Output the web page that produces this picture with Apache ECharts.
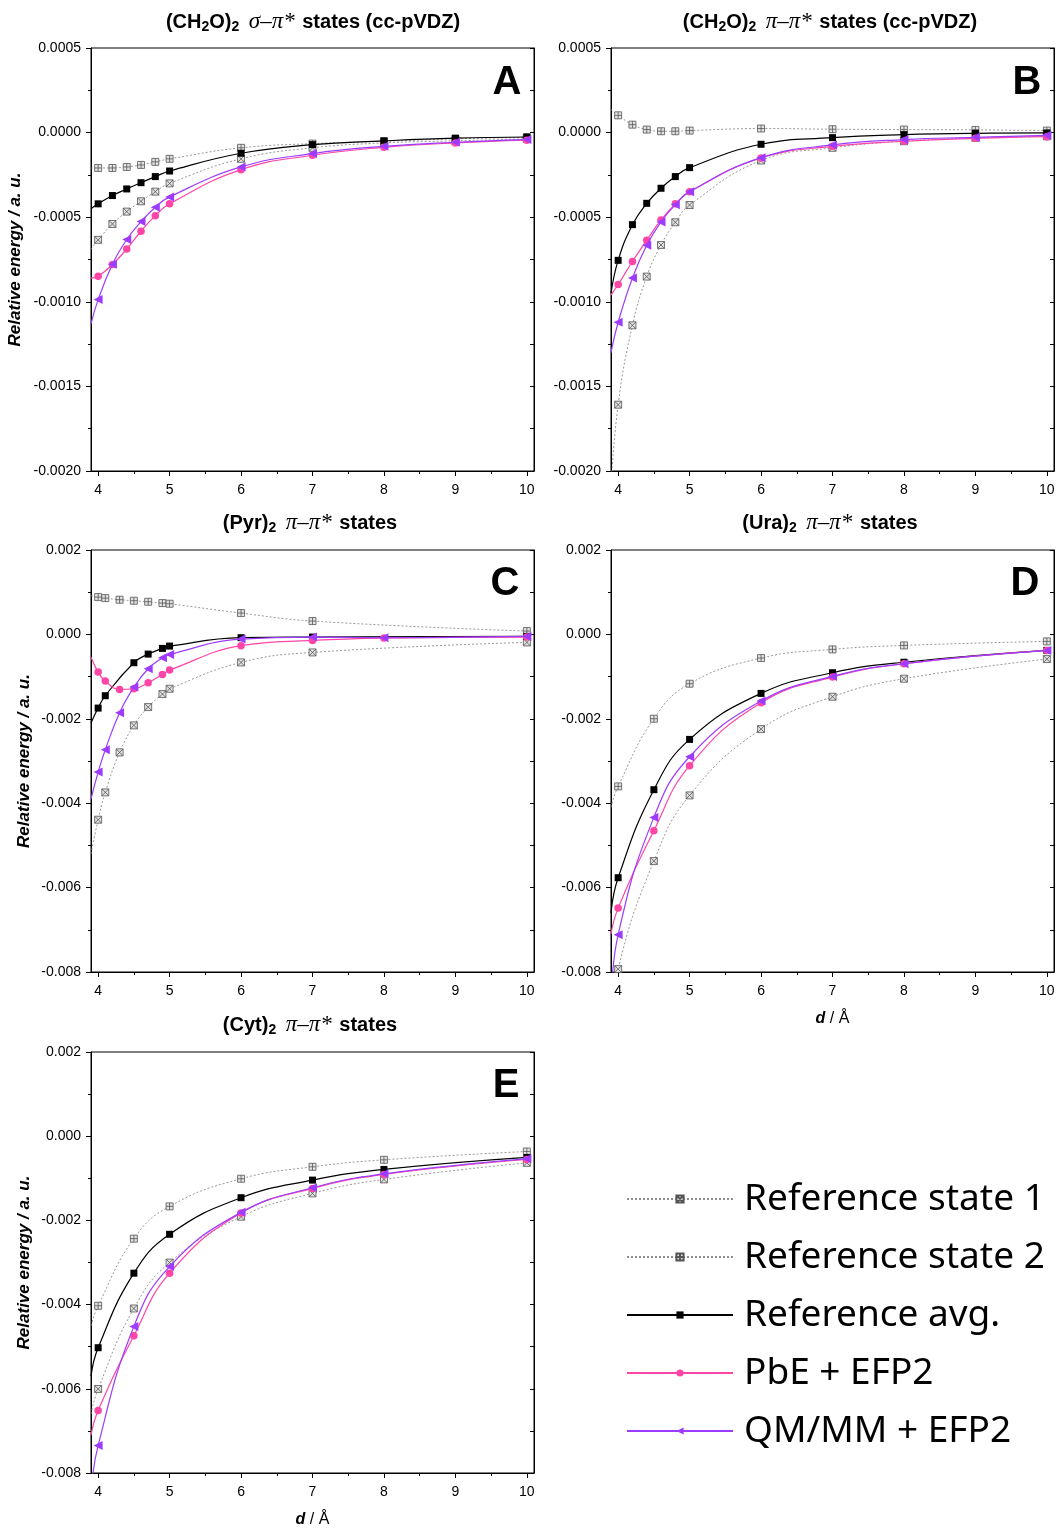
<!DOCTYPE html>
<html>
<head>
<meta charset="utf-8">
<script src="https://cdn.jsdelivr.net/npm/echarts@6/dist/echarts.min.js"></script>
<style>
html,body{margin:0;padding:0;background:#fff;}
#chart{width:1058px;height:1529px;}
</style>
</head>
<body>
<div id="chart"></div>
<script>
// ---------------- DATA (d in Å, energies in a.u.) ----------------
// first entry of each d-array (3.9) is where the drawn curve meets the left frame (no marker there)
const A_d = [3.9, 4.0, 4.2, 4.4, 4.6, 4.8, 5.0, 6, 7, 8, 9, 10];
const A_state1 = [-0.00069, -0.000634, -0.00054, -0.000467, -0.000406, -0.000349, -0.0003, -0.000155, -0.00009, -0.000061, -0.000049, -0.000037];
const A_state2 = [-0.00021, -0.000209, -0.000209, -0.000203, -0.000191, -0.000173, -0.000155, -0.00009, -0.000065, -0.000051, -0.000037, -0.000028];
const A_avg    = [-0.00045, -0.000421, -0.000372, -0.000333, -0.000296, -0.00026, -0.000227, -0.000122, -0.000071, -0.000049, -0.000033, -0.000026];
const A_pbe    = [-0.00086, -0.000849, -0.00078, -0.000688, -0.000583, -0.000491, -0.000421, -0.000219, -0.000134, -0.000087, -0.000061, -0.000045];
const A_qmmm   = [-0.00113, -0.000987, -0.000778, -0.000632, -0.000526, -0.000441, -0.00038, -0.000203, -0.000124, -0.000081, -0.000057, -0.000041];

const B_d = [3.9, 4.0, 4.2, 4.4, 4.6, 4.8, 5.0, 6, 7, 8, 9, 10];
const B_state1 = [-0.0021, -0.001608, -0.001139, -0.000851, -0.000664, -0.00053, -0.000428, -0.000165, -0.00009, -0.000051, -0.000031, -0.000022];
const B_state2 = [0.000136, 0.000102, 0.000047, 0.000018, 0.000008, 0.000008, 0.000012, 0.000024, 0.00002, 0.000018, 0.000016, 0.000012];
const B_avg    = [-0.00095, -0.000755, -0.000544, -0.000418, -0.000329, -0.00026, -0.000207, -0.000069, -0.00003, -0.000012, -0.000004, -0.000002];
const B_pbe    = [-0.00096, -0.000898, -0.000762, -0.000636, -0.000516, -0.000421, -0.00035, -0.00015, -0.000081, -0.000051, -0.000034, -0.000024];
const B_qmmm   = [-0.0013, -0.001121, -0.000859, -0.000666, -0.000528, -0.000426, -0.000349, -0.000148, -0.000073, -0.000041, -0.000028, -0.000016];

const C_d_state = [3.9, 4.0, 4.1, 4.3, 4.5, 4.7, 4.9, 5.0, 6, 7, 10];
const C_state1 = [-0.0052, -0.004391, -0.003744, -0.002796, -0.002156, -0.001722, -0.001414, -0.001288, -0.000664, -0.000427, -0.00019];
const C_state2 = [0.00092, 0.000884, 0.00086, 0.000822, 0.000798, 0.000774, 0.000742, 0.000727, 0.000505, 0.000316, 0.000079];
const C_d_avg = [3.9, 4.0, 4.1, 4.5, 4.7, 4.9, 5.0, 6, 7, 10];
const C_avg    = [-0.0021, -0.001746, -0.001453, -0.000671, -0.000467, -0.000332, -0.000277, -0.000078, -0.000063, -0.000047];
const C_d_model = [3.9, 4.0, 4.1, 4.3, 4.5, 4.7, 4.9, 5.0, 6, 7, 8, 10];
const C_pbe    = [-0.00054, -0.000893, -0.001107, -0.001303, -0.001288, -0.001145, -0.000948, -0.000845, -0.000268, -0.000142, -0.000087, -0.000063];
const C_qmmm   = [-0.0039, -0.003262, -0.002733, -0.001855, -0.001248, -0.000814, -0.000553, -0.000474, -0.000111, -0.000063, -0.000079, -0.000047];

const D_d = [3.9, 4, 4.5, 5, 6, 7, 8, 10];
const D_state1 = [-0.0095, -0.007931, -0.005372, -0.003815, -0.002244, -0.001477, -0.00105, -0.000585];
const D_state2 = [-0.0041, -0.003602, -0.001998, -0.001169, -0.000561, -0.000355, -0.000261, -0.000166];
const D_avg    = [-0.0066, -0.005766, -0.00368, -0.002488, -0.001398, -0.000908, -0.00066, -0.000379];
const D_pbe    = [-0.0071, -0.006486, -0.004652, -0.003112, -0.001619, -0.001011, -0.000695, -0.000379];
const D_qmmm   = [-0.0088, -0.007116, -0.004336, -0.002899, -0.00158, -0.000995, -0.000695, -0.000379];

const E_d = [3.9, 4, 4.5, 5, 6, 7, 8, 10];
const E_state1 = [-0.0066, -0.006003, -0.004092, -0.003002, -0.001912, -0.001358, -0.001027, -0.000632];
const E_state2 = [-0.0045, -0.004028, -0.002433, -0.001667, -0.001011, -0.000727, -0.000561, -0.000363];
const E_avg    = [-0.0057, -0.005024, -0.003254, -0.00233, -0.001461, -0.001043, -0.00079, -0.000505];
const E_pbe    = [-0.0071, -0.006517, -0.004739, -0.003254, -0.001825, -0.00124, -0.000908, -0.000553];
const E_qmmm   = [-0.0085, -0.007346, -0.004519, -0.003096, -0.001809, -0.001225, -0.000893, -0.000537];

const seriesNames = ['Reference state 1', 'Reference state 2', 'Reference avg.', 'PbE + EFP2', 'QM/MM + EFP2'];
const xLabelTicks = [4, 5, 6, 7, 8, 9, 10];
const xMinorTicks = [4.5, 5.5, 6.5, 7.5, 8.5, 9.5];
const panelTitles = [
  '(CH{s|2}O){s|2} {g|σ–π*} states (cc-pVDZ)',
  '(CH{s|2}O){s|2} {g|π–π*} states (cc-pVDZ)',
  '(Pyr){s|2} {g|π–π*} states',
  '(Ura){s|2} {g|π–π*} states',
  '(Cyt){s|2} {g|π–π*} states'
];
const panelLetters = ['A', 'B', 'C', 'D', 'E'];
const yRangesSmall = {min: -0.002, max: 0.0005, interval: 0.0005, dec: 4};
const yRangesLarge = {min: -0.008, max: 0.002, interval: 0.002, dec: 3};

// ---------------- LAYOUT ----------------
const panels = [
  {grid: {left: 91, top: 48, width: 443, height: 423}, y: yRangesSmall, yName: true, xName: false,
   sets: [[A_d, A_state1], [A_d, A_state2], [A_d, A_avg], [A_d, A_pbe], [A_d, A_qmmm]],
   title: [313, 22], letter: [507, 83]},
  {grid: {left: 611, top: 48, width: 443, height: 423}, y: yRangesSmall, yName: false, xName: false,
   sets: [[B_d, B_state1], [B_d, B_state2], [B_d, B_avg], [B_d, B_pbe], [B_d, B_qmmm]],
   title: [830, 22], letter: [1027, 83]},
  {grid: {left: 91, top: 550, width: 443, height: 422}, y: yRangesLarge, yName: true, xName: false,
   sets: [[C_d_state, C_state1], [C_d_state, C_state2], [C_d_avg, C_avg], [C_d_model, C_pbe], [C_d_model, C_qmmm]],
   title: [310, 523], letter: [505, 584]},
  {grid: {left: 611, top: 550, width: 443, height: 422}, y: yRangesLarge, yName: false, xName: true,
   sets: [[D_d, D_state1], [D_d, D_state2], [D_d, D_avg], [D_d, D_pbe], [D_d, D_qmmm]],
   title: [830, 523], letter: [1025, 584]},
  {grid: {left: 91, top: 1052, width: 443, height: 422}, y: yRangesLarge, yName: true, xName: true,
   sets: [[E_d, E_state1], [E_d, E_state2], [E_d, E_avg], [E_d, E_pbe], [E_d, E_qmmm]],
   title: [310, 1025], letter: [506, 1086]}
];

const FONT = 'Liberation Sans, Arial, sans-serif';
const PINK = '#ff45a6';
const PURPLE = '#9d3cff';
const GREY = '#8c8c8c';

const seriesStyles = [
  {symbol: 'path://M0,0H10V10H0ZM0,0L10,10M10,0L0,10', symbolSize: 7,
   lineStyle: {color: GREY, width: 0.9, type: [2, 2]}, itemStyle: {color: '#e2e2e2', borderColor: '#555', borderWidth: 0.8}, z: 2},
  {symbol: 'path://M0,0H10V10H0ZM5,0V10M0,5H10', symbolSize: 7,
   lineStyle: {color: GREY, width: 0.9, type: [2, 2]}, itemStyle: {color: '#e2e2e2', borderColor: '#555', borderWidth: 0.8}, z: 2},
  {symbol: 'rect', symbolSize: 7,
   lineStyle: {color: '#000', width: 1.2}, itemStyle: {color: '#000'}, z: 3},
  {symbol: 'circle', symbolSize: 7.5,
   lineStyle: {color: PINK, width: 1.2}, itemStyle: {color: PINK}, z: 4},
  {symbol: 'triangle', symbolSize: 9, symbolRotate: 90,
   lineStyle: {color: PURPLE, width: 1.2}, itemStyle: {color: PURPLE}, z: 5}
];

const grids = [], xAxes = [], yAxes = [], series = [], graphics = [];

panels.forEach((p, g) => {
  grids.push(Object.assign({show: true, borderColor: '#000', borderWidth: 1, backgroundColor: 'transparent'}, p.grid));
  // main x axis (labels + major ticks)
  xAxes.push({
    type: 'value', gridIndex: g, min: 3.9, max: 10.1, position: 'bottom',
    splitLine: {show: false},
    axisLine: {show: true, onZero: false, lineStyle: {color: '#000', width: 1}},
    axisTick: {show: true, inside: false, length: 5, customValues: xLabelTicks, lineStyle: {color: '#000'}},
    axisLabel: {show: true, customValues: xLabelTicks, margin: 12, color: '#000', fontFamily: FONT, fontSize: 14,
      formatter: v => (Math.abs(v - Math.round(v)) < 1e-9 ? String(Math.round(v)) : '')},
    name: p.xName ? '{it|d} / Å' : '', nameLocation: 'middle', nameGap: 39,
    nameTextStyle: {color: '#000', fontFamily: FONT, fontSize: 16,
      rich: {it: {fontStyle: 'italic', fontWeight: 'bold', fontFamily: FONT, fontSize: 16, color: '#000'}}}
  });
  // minor x ticks
  xAxes.push({
    type: 'value', gridIndex: g, min: 3.9, max: 10.1, position: 'bottom',
    splitLine: {show: false}, axisLine: {show: false, onZero: false},
    axisTick: {show: true, inside: false, length: 3, customValues: xMinorTicks, lineStyle: {color: '#000'}},
    axisLabel: {show: false}
  });
  const yr = p.y;
  const fmt = v => { if (Math.abs(v) < 1e-12) v = 0; return v.toFixed(yr.dec); };
  yAxes.push({
    type: 'value', gridIndex: g, min: yr.min, max: yr.max, interval: yr.interval, position: 'left',
    splitLine: {show: false},
    axisLine: {show: true, onZero: false, lineStyle: {color: '#000', width: 1}},
    axisTick: {show: true, inside: false, length: 5, lineStyle: {color: '#000'}},
    minorTick: {show: true, splitNumber: 2, length: 3, lineStyle: {color: '#000'}},
    axisLabel: {show: true, margin: 10, color: '#000', fontFamily: FONT, fontSize: 14, formatter: fmt},
    name: p.yName ? 'Relative energy / a. u.' : '', nameLocation: 'middle', nameGap: g === 0 ? 67 : 58,
    nameTextStyle: {color: '#000', fontFamily: FONT, fontSize: 17, fontWeight: 'bold', fontStyle: 'italic'}
  });
  yAxes.push({
    type: 'value', gridIndex: g, min: yr.min, max: yr.max, interval: yr.interval, position: 'right',
    splitLine: {show: false},
    axisLine: {show: true, onZero: false, lineStyle: {color: '#000', width: 1}},
    axisTick: {show: true, inside: true, length: 4, lineStyle: {color: '#000'}},
    minorTick: {show: true, splitNumber: 2, length: 4, lineStyle: {color: '#000'}},
    axisLabel: {show: false}
  });

  p.sets.forEach((set, k) => {
    const xs = set[0], ys = set[1], st = seriesStyles[k];
    series.push({
      type: 'line', name: seriesNames[k],
      xAxisIndex: 2 * g, yAxisIndex: 2 * g,
      data: xs.map((x, i) => x < 4 ? {value: [x, ys[i]], symbol: 'none'} : [x, ys[i]]),
      smooth: 0.45, clip: true,
      symbol: st.symbol, symbolSize: st.symbolSize, symbolRotate: st.symbolRotate || 0,
      showAllSymbol: true,
      lineStyle: st.lineStyle, itemStyle: st.itemStyle, z: st.z,
      emphasis: {disabled: true}, animation: false
    });
  });

  graphics.push({
    type: 'text', x: p.title[0], y: p.title[1],
    style: {
      text: panelTitles[g], align: 'center', verticalAlign: 'middle',
      fontFamily: FONT, fontSize: 20, fontWeight: 'bold', fill: '#000',
      rich: {
        s: {fontFamily: FONT, fontSize: 14, fontWeight: 'bold', fill: '#000', padding: [10, 0, 0, 0]},
        g: {fontFamily: 'Liberation Serif, Times New Roman, serif', fontSize: 23, fontStyle: 'italic', fontWeight: 'normal', fill: '#000', padding: [0, 2, 0, 4]}
      }
    }
  });
  graphics.push({
    type: 'text', x: p.letter[0], y: p.letter[1],
    style: {text: panelLetters[g], align: 'center', verticalAlign: 'middle',
      fontFamily: FONT, fontSize: 40, fontWeight: 'bold', fill: '#000'}
  });
});

const option = {
  animation: false,
  backgroundColor: '#fff',
  grid: grids,
  xAxis: xAxes,
  yAxis: yAxes,
  series: series,
  graphic: graphics,
  legend: {
    data: seriesNames,
    orient: 'vertical', left: 621, top: 1172,
    itemWidth: 106, itemHeight: 9, itemGap: 14,
    selectedMode: false,
    textStyle: {fontFamily: 'Noto Sans, Open Sans, sans-serif', fontSize: 37, color: '#000', lineHeight: 44, padding: [0, 0, 0, 6]}
  }
};

const chart = echarts.init(document.getElementById('chart'), null, {renderer: 'canvas'});
chart.setOption(option);
</script>
</body>
</html>
